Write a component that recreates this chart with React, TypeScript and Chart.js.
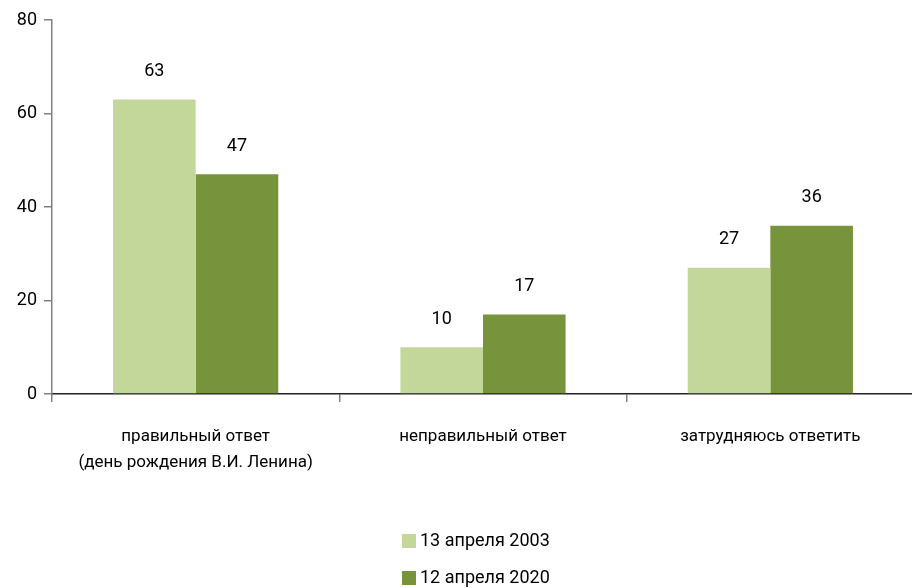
import React, { useEffect, useRef } from "react";
import { Chart, registerables } from "chart.js";

Chart.register(...registerables);

const categories: string[][] = [
  ["правильный ответ", "(день рождения В.И. Ленина)"],
  ["неправильный ответ"],
  ["затрудняюсь ответить"],
];
const series2003: number[] = [63, 10, 27];
const series2020: number[] = [47, 17, 36];
const seriesLabels: string[] = ["13 апреля 2003", "12 апреля 2020"];
const seriesColors: string[] = ["#C4D79B", "#77933C"];
const yTicks: number[] = [0, 20, 40, 60, 80];

const FONT = "Roboto, 'Noto Sans', sans-serif";
const TEXT = "#000";

export default function App() {
  const ref = useRef<HTMLCanvasElement>(null);
  useEffect(() => {
    if (!ref.current) return;
    const valueLabels = {
      id: "valueLabels",
      afterDatasetsDraw(chart: any) {
        const ctx = chart.ctx;
        ctx.save();
        ctx.font = `18px ${FONT}`;
        ctx.fillStyle = TEXT;
        ctx.textAlign = "center";
        ctx.textBaseline = "middle";
        chart.data.datasets.forEach((ds: any, di: number) => {
          const meta = chart.getDatasetMeta(di);
          meta.data.forEach((bar: any, i: number) => {
            ctx.fillText(String(ds.data[i]), bar.x, bar.y - 28);
          });
        });
        ctx.restore();
      },
    };
    const bottomLegend = {
      id: "bottomLegend",
      afterDraw(chart: any) {
        const ctx = chart.ctx;
        ctx.save();
        ctx.font = `18px ${FONT}`;
        ctx.textBaseline = "middle";
        ctx.textAlign = "left";
        const ys = [541, 578];
        chart.data.datasets.forEach((ds: any, di: number) => {
          const y = ys[di];
          ctx.fillStyle = ds.backgroundColor;
          ctx.fillRect(402, y - 7, 14, 14);
          ctx.fillStyle = TEXT;
          ctx.fillText(ds.label, 420, y);
        });
        ctx.restore();
      },
    };
    const chart = new Chart(ref.current, {
      type: "bar",
      data: {
        labels: categories,
        datasets: [
          { label: seriesLabels[0], data: series2003, backgroundColor: seriesColors[0] },
          { label: seriesLabels[1], data: series2020, backgroundColor: seriesColors[1] },
        ],
      },
      options: {
        animation: false,
        responsive: false,
        maintainAspectRatio: false,
        layout: { padding: { top: 20, right: 0, bottom: 110, left: 0 } },
        datasets: { bar: { categoryPercentage: 0.575, barPercentage: 1 } },
        plugins: { legend: { display: false }, tooltip: { enabled: false } },
        scales: {
          x: {
            grid: {
              offset: true,
              drawOnChartArea: false,
              drawTicks: true,
              tickLength: 8,
              color: "#808080",
              lineWidth: 1.5,
            },
            border: { display: true, color: "#222", width: 1.5 },
            ticks: {
              color: TEXT,
              font: { family: FONT, size: 17, lineHeight: 1.5 },
              padding: 22,
              maxRotation: 0,
              autoSkip: false,
            },
            afterFit(scale: any) {
              scale.height = 84;
            },
          },
          y: {
            min: 0,
            max: 80,
            afterBuildTicks(scale: any) {
              scale.ticks = yTicks.map((v) => ({ value: v }));
            },
            grid: {
              drawOnChartArea: false,
              drawTicks: true,
              tickLength: 8,
              color: "#808080",
              lineWidth: 1.5,
            },
            border: { display: true, color: "#808080", width: 1.5 },
            ticks: {
              color: TEXT,
              font: { family: FONT, size: 18 },
              padding: 7,
            },
            afterFit(scale: any) {
              scale.width = 52;
            },
          },
        },
      },
      plugins: [valueLabels, bottomLegend],
    });
    return () => chart.destroy();
  }, []);
  return (
    <div style={{ position: "fixed", left: 0, top: 0, width: 912, height: 588, overflow: "hidden", background: "#fff" }}>
      <canvas ref={ref} width={914} height={588} style={{ width: 914, height: 588, display: "block" }} />
    </div>
  );
}
